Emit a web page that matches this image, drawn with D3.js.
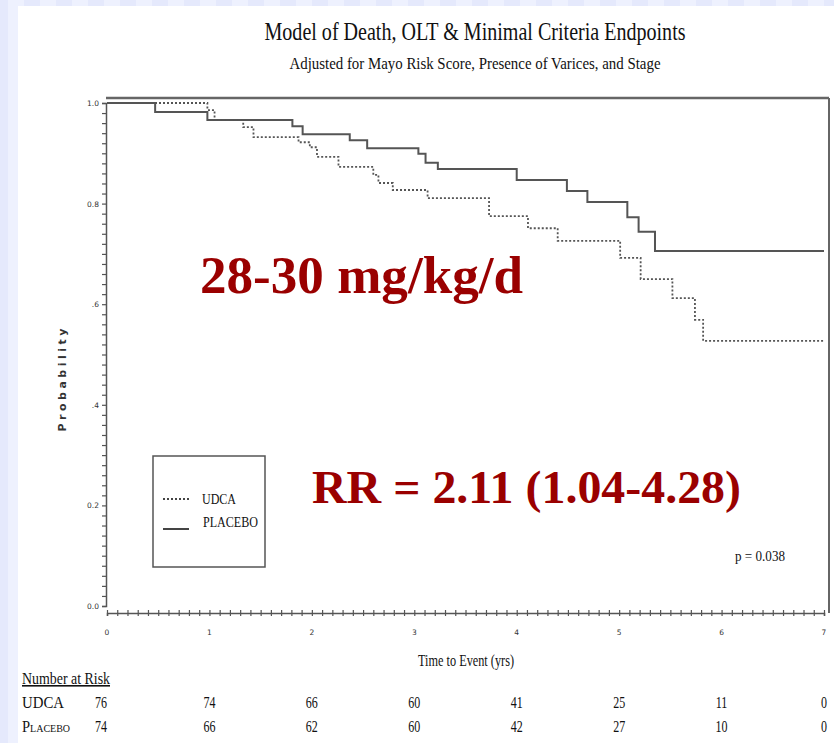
<!DOCTYPE html>
<html>
<head>
<meta charset="utf-8">
<script src="https://cdn.jsdelivr.net/npm/d3@7"></script>
<style>
  body { margin: 0; background: #ffffff; }
  svg { display: block; }
</style>
</head>
<body>
<script>
// Kaplan-Meier style step curves
var udcaTimes = [0, 0.98, 1.05, 1.33, 1.43, 1.87, 1.98, 2.05, 2.26, 2.60, 2.65, 2.79, 3.13, 3.73, 4.11, 4.40, 5.01, 5.21, 5.52, 5.74, 5.82, 7.0]
var udcaSurv  = [1.0, 0.986, 0.966, 0.952, 0.932, 0.922, 0.912, 0.893, 0.873, 0.857, 0.841, 0.827, 0.811, 0.775, 0.751, 0.726, 0.692, 0.650, 0.612, 0.569, 0.527, 0.527]

var placeboTimes = [0, 0.47, 0.98, 1.81, 1.91, 2.37, 2.54, 3.04, 3.11, 3.23, 4.0, 4.49, 4.69, 5.08, 5.19, 5.35, 7.0]
var placeboSurv  = [1.0, 0.982, 0.966, 0.954, 0.938, 0.926, 0.910, 0.899, 0.881, 0.869, 0.847, 0.825, 0.803, 0.773, 0.744, 0.706, 0.706]

var years = [0, 1, 2, 3, 4, 5, 6, 7]
var udcaAtRisk = [76, 74, 66, 60, 41, 25, 11, 0]
var placeboAtRisk = [74, 66, 62, 60, 42, 27, 10, 0]

var yTicks = [0, 0.2, 0.4, 0.6, 0.8, 1.0]
var yTickLabels = ["0.0", "0.2", ".4", ".6", "0.8", "1.0"]

var W = 834, H = 743
var svg = d3.select("body").append("svg")
  .attr("width", W)
  .attr("height", H)

// slide background
svg.append("rect").attr("width", W).attr("height", H).attr("fill", "#ffffff")
svg.append("rect").attr("x", 0).attr("y", 0).attr("width", 8).attr("height", H).attr("fill", "#e5e9fc")
svg.append("rect").attr("x", 8).attr("y", 0).attr("width", 10).attr("height", H).attr("fill", "#eef1fe")
svg.selectAll("rect.chk")
  .data(d3.range(0, 53)).enter()
  .append("rect")
  .attr("class", "chk")
  .attr("x", function(d) { return 8 + d * 16 })
  .attr("y", 0)
  .attr("width", 16)
  .attr("height", 6)
  .attr("fill", function(d) { return d % 2 == 0 ? "#eef1fe" : "#e5e9fc" })

var x = d3.scaleLinear().domain([0, 7]).range([107, 824])
var y = d3.scaleLinear().domain([0, 1]).range([606, 103])

var serif = "'Liberation Serif', 'DejaVu Serif', serif"
var grey = "#555"

// titles
svg.append("text")
  .attr("x", 475).attr("y", 40)
  .attr("text-anchor", "middle")
  .attr("font-family", serif).attr("font-size", "26px")
  .attr("textLength", 421).attr("lengthAdjust", "spacingAndGlyphs")
  .attr("fill", "#111")
  .text("Model of Death, OLT & Minimal Criteria Endpoints")

svg.append("text")
  .attr("x", 475).attr("y", 69)
  .attr("text-anchor", "middle")
  .attr("font-family", serif).attr("font-size", "17px")
  .attr("textLength", 371).attr("lengthAdjust", "spacingAndGlyphs")
  .attr("fill", "#111")
  .text("Adjusted for Mayo Risk Score, Presence of Varices, and Stage")

// frame top and right
svg.append("line").attr("x1", 106).attr("x2", 829).attr("y1", 98).attr("y2", 98)
  .attr("stroke", "#666").attr("stroke-width", 2.5)
svg.append("line").attr("x1", 829).attr("x2", 829).attr("y1", 98).attr("y2", 613)
  .attr("stroke", "#666").attr("stroke-width", 2)

// y axis
var yAxis = svg.append("g")
  .attr("transform", "translate(106,0)")
  .call(d3.axisLeft(y).tickValues(d3.range(0, 51).map(function(d) { return d / 50 })).tickSize(4).tickFormat(""))
yAxis.select(".domain").attr("stroke", grey).attr("stroke-width", 1.5)
yAxis.selectAll(".tick line").attr("stroke", grey).attr("stroke-width", 1.2)

svg.selectAll("text.ylab")
  .data(yTicks).enter()
  .append("text")
  .attr("class", "ylab")
  .attr("x", 99)
  .attr("y", function(d) { return y(d) + 3 })
  .attr("text-anchor", "end")
  .attr("font-family", "'DejaVu Sans', sans-serif")
  .attr("font-size", "7.5px")
  .attr("fill", "#333")
  .text(function(d, i) { return yTickLabels[i] })

// x axis
var xAxis = svg.append("g")
  .attr("transform", "translate(0,613)")
  .call(d3.axisBottom(x).tickValues(d3.range(0, 71).map(function(d) { return d / 10 })).tickSize(3).tickFormat(""))
xAxis.select(".domain").attr("stroke", grey).attr("stroke-width", 1.5)
xAxis.selectAll(".tick line").attr("y1", -3).attr("stroke", grey).attr("stroke-width", 1.2)

svg.selectAll("text.xlab")
  .data(years).enter()
  .append("text")
  .attr("class", "xlab")
  .attr("x", function(d) { return x(d) })
  .attr("y", 635)
  .attr("text-anchor", "middle")
  .attr("font-family", "'DejaVu Sans', sans-serif")
  .attr("font-size", "7.5px")
  .attr("fill", "#333")
  .text(function(d) { return d })

svg.append("text")
  .attr("x", 466).attr("y", 666)
  .attr("text-anchor", "middle")
  .attr("font-family", serif).attr("font-size", "17px")
  .attr("textLength", 96).attr("lengthAdjust", "spacingAndGlyphs")
  .attr("fill", "#111")
  .text("Time to Event (yrs)")

svg.append("text")
  .attr("transform", "translate(66,380) rotate(-90)")
  .attr("text-anchor", "middle")
  .attr("font-family", "'DejaVu Sans', sans-serif").attr("font-size", "11px")
  .attr("font-weight", "bold")
  .attr("textLength", 103).attr("lengthAdjust", "spacing")
  .attr("fill", "#333")
  .text("Probability")

// curves
var step = d3.line()
  .x(function(d) { return x(d[0]) })
  .y(function(d) { return y(d[1]) })
  .curve(d3.curveStepAfter)

svg.append("path")
  .datum(d3.zip(placeboTimes, placeboSurv))
  .attr("d", step)
  .attr("fill", "none")
  .attr("stroke", "#555")
  .attr("stroke-width", 2)

svg.append("path")
  .datum(d3.zip(udcaTimes, udcaSurv))
  .attr("d", step)
  .attr("fill", "none")
  .attr("stroke", "#555")
  .attr("stroke-width", 1.8)
  .attr("stroke-dasharray", "2,2")

// legend
svg.append("rect")
  .attr("x", 153).attr("y", 456).attr("width", 112).attr("height", 111)
  .attr("fill", "none").attr("stroke", grey).attr("stroke-width", 1.5)
svg.append("line").attr("x1", 163).attr("x2", 191).attr("y1", 499).attr("y2", 499)
  .attr("stroke", "#444").attr("stroke-width", 2).attr("stroke-dasharray", "2,2")
svg.append("line").attr("x1", 163).attr("x2", 189).attr("y1", 529).attr("y2", 529)
  .attr("stroke", "#444").attr("stroke-width", 2)
svg.append("text").attr("x", 202).attr("y", 504)
  .attr("font-family", serif).attr("font-size", "14px")
  .attr("textLength", 34).attr("lengthAdjust", "spacingAndGlyphs")
  .attr("fill", "#111").text("UDCA")
svg.append("text").attr("x", 203).attr("y", 527)
  .attr("font-family", serif).attr("font-size", "14px")
  .attr("textLength", 55).attr("lengthAdjust", "spacingAndGlyphs")
  .attr("fill", "#111").text("PLACEBO")

svg.append("text").attr("x", 735).attr("y", 561)
  .attr("font-family", serif).attr("font-size", "15px")
  .attr("textLength", 50).attr("lengthAdjust", "spacingAndGlyphs")
  .attr("fill", "#111").text("p = 0.038")

// big red annotations
svg.append("text").attr("x", 200).attr("y", 293)
  .attr("font-family", serif).attr("font-weight", "bold").attr("font-size", "52px")
  .attr("textLength", 323).attr("lengthAdjust", "spacingAndGlyphs")
  .attr("fill", "#9a0000").text("28-30 mg/kg/d")
svg.append("text").attr("x", 312).attr("y", 503)
  .attr("font-family", serif).attr("font-weight", "bold").attr("font-size", "46px")
  .attr("textLength", 429).attr("lengthAdjust", "spacingAndGlyphs")
  .attr("fill", "#9a0000").text("RR = 2.11 (1.04-4.28)")

// number at risk table
svg.append("text").attr("x", 22).attr("y", 684)
  .attr("font-family", serif).attr("font-size", "16px")
  .attr("textLength", 88).attr("lengthAdjust", "spacingAndGlyphs")
  .attr("text-decoration", "underline")
  .attr("fill", "#111").text("Number at Risk")

var rows = [["UDCA", udcaAtRisk, 708, 42], ["Placebo", placeboAtRisk, 732, 48]]
rows.forEach(function(r) {
  svg.append("text").attr("x", 22).attr("y", r[2])
    .attr("font-family", serif).attr("font-size", "16px")
    .attr("font-variant", "small-caps")
    .attr("textLength", r[3]).attr("lengthAdjust", "spacingAndGlyphs")
    .attr("fill", "#111").text(r[0])
  svg.selectAll(null)
    .data(r[1]).enter()
    .append("text")
    .attr("x", function(d, i) { return i == 0 ? 101 : x(years[i]) })
    .attr("y", r[2])
    .attr("text-anchor", "middle")
    .attr("font-family", serif).attr("font-size", "16px")
    .attr("transform", function(d, i) {
      var cx = i == 0 ? 101 : x(years[i])
      return "translate(" + cx + ",0) scale(0.75,1) translate(" + (-cx) + ",0)"
    })
    .attr("fill", "#111")
    .text(function(d) { return d })
})
</script>
</body>
</html>
